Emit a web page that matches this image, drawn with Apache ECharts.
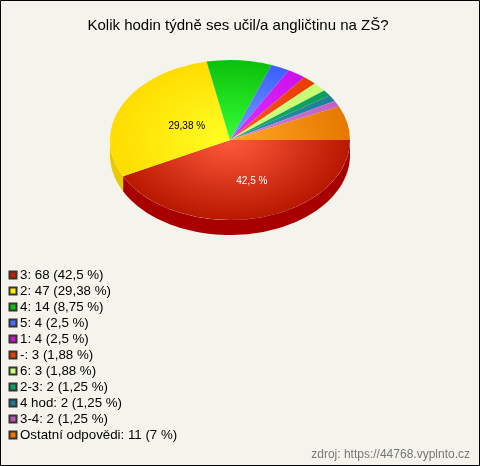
<!DOCTYPE html>
<html><head><meta charset="utf-8">
<style>html,body{margin:0;padding:0;background:#f5f4ec}#c{width:480px;height:466px}</style>
<script src="https://cdn.jsdelivr.net/npm/echarts@6/dist/echarts.min.js"></script>
</head><body><div id="c"></div>
<script>
const categories = ['3','2','4','5','1','-','6','2-3','4 hod','3-4','Ostatní odpovědi'];
const counts = [68,47,14,4,4,3,3,2,2,2,11];
const percents = ['42,5','29,38','8,75','2,5','2,5','1,88','1,88','1,25','1,25','1,25','7'];

const legendColors = ['#c42000','#ffee00','#0cc40c','#4a70ff','#cc10cc','#e84000','#ccff77','#0ea060','#1a7a99','#bb55bb','#ee7700'];
const innerColors  = ['#ff5a3c','#ffff24','#36ff36','#7a9cff','#e030ff','#ff5a20','#d4ff88','#14b070','#3090a8','#d080d8','#ffa824'];
const outerColors  = ['#b81800','#ffdc00','#0cc00c','#3a60ff','#cc10ee','#e83c00','#c4ff70','#0c9c5c','#1f7f99','#c060c8','#e67800'];
const wallColors   = ['#a80000','#e6cc00','#0a9a0a','#2a48c0','#a00ca0','#b03000','#a0cc60','#0a7a48','#145c74','#904090','#b85c00'];

const total = counts.reduce((a,b)=>a+b,0);
const CX=230, CY=140, RX=120, RY=80, DEPTH=15;
const angles=[]; let acc=0;
counts.forEach(v=>{const s=acc/total*2*Math.PI; acc+=v; angles.push([s,acc/total*2*Math.PI]);});

const labelPlace = {0:{fx:0.78,fy:0.53,color:'#fff'},1:{fx:0.40,fy:0.40,color:'#000'}};

function renderWall(params,api){
  const i=params.seriesIndex;
  const a0=angles[i][0], a1=Math.min(angles[i][1],Math.PI);
  if(a0>=Math.PI) return {type:'group',children:[]};
  const pts=[],n=60;
  for(let k=0;k<=n;k++){const t=a0+(a1-a0)*k/n;pts.push([CX+RX*Math.cos(t),CY+RY*Math.sin(t)]);}
  for(let k=n;k>=0;k--){const t=a0+(a1-a0)*k/n;pts.push([CX+RX*Math.cos(t),CY+RY*Math.sin(t)+DEPTH]);}
  return {type:'polygon',shape:{points:pts},style:{fill:wallColors[i]},silent:true};
}
function renderTop(i){return function(params,api){
  const [a0,a1]=angles[i];
  const fill=new echarts.graphic.RadialGradient(0,0,RX,[{offset:0,color:innerColors[i]},{offset:1,color:outerColors[i]}],true);
  const children=[{type:'sector',x:CX,y:CY,scaleY:RY/RX,
    shape:{cx:0,cy:0,r:RX,r0:0,startAngle:a0,endAngle:a1,clockwise:true},
    style:{fill}}];
  const lp=labelPlace[i];
  if(lp){const m=(a0+a1)/2;
    children.push({type:'text',x:CX+RX*Math.cos(m)*lp.fx,y:CY+RY*Math.sin(m)*lp.fy,z2:10,
      style:{text:percents[i]+' %',fill:lp.color,font:'10px "Liberation Sans",Arial,sans-serif',align:'center',verticalAlign:'middle'}});}
  return {type:'group',children};
};}

const legendNames=categories.map((c,i)=>c+': '+counts[i]+' ('+percents[i]+' %)');
const series=[];
categories.forEach((c,i)=>series.push({type:'custom',name:'w'+i,coordinateSystem:'none',data:[[counts[i]]],renderItem:renderWall,silent:true,animation:false,z:1}));
categories.forEach((c,i)=>series.push({type:'custom',name:legendNames[i],coordinateSystem:'none',data:[[counts[i]]],renderItem:renderTop(i),itemStyle:{color:legendColors[i],borderColor:'#333',borderWidth:1},animation:false,z:2}));

const chart=echarts.init(document.getElementById('c'),null,{renderer:'canvas'});
chart.setOption({
  animation:false,
  backgroundColor:'#f5f4ec',
  title:[{text:'Kolik hodin týdně ses učil/a angličtinu na ZŠ?',left:233,textAlign:'center',top:13,textStyle:{fontFamily:'"Liberation Sans",Arial,sans-serif',fontSize:15,fontWeight:'normal',color:'#000'}},
         {text:'zdroj: https://44768.vyplnto.cz',right:5,top:444,textStyle:{fontFamily:'"Liberation Sans",Arial,sans-serif',fontSize:12,fontWeight:'normal',color:'#777'}}],
  legend:{data:legendNames.map(n=>({name:n,icon:'rect'})),orient:'vertical',left:8.5,top:268.5,padding:0,itemWidth:7,itemHeight:7,itemGap:3,selectedMode:false,
    textStyle:{fontFamily:'"Liberation Sans",Arial,sans-serif',fontSize:13.3,color:'#000',padding:[0,0,0,-1.5],lineHeight:13}},
  graphic:[{type:'rect',shape:{x:0.5,y:0.5,width:479,height:465},style:{fill:'none',stroke:'#000',lineWidth:1},silent:true,z:100}],
  series
});
</script></body></html>
